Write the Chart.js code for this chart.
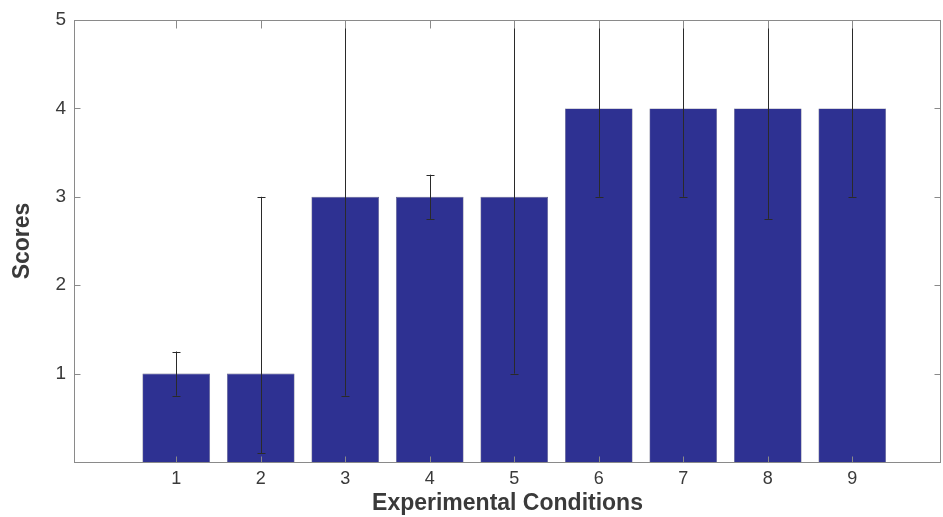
<!DOCTYPE html>
<html><head><meta charset="utf-8">
<script src="https://cdn.jsdelivr.net/npm/chart.js@4"></script>
<style>html,body{margin:0;padding:0;background:#fff}#wrap{width:943px;height:517px}</style>
</head><body><div id="wrap"><canvas id="c" width="943" height="517"></canvas></div>
<script>
const conditions = [1, 2, 3, 4, 5, 6, 7, 8, 9];
const scores = [1, 1, 3, 3, 3, 4, 4, 4, 4];
const errLow = [0.75, 0.1, 0.75, 2.75, 1, 3, 3, 2.75, 3];
const errHigh = [1.25, 3, 5, 3.25, 5, 5, 5, 5, 5];
const yTicks = [1, 2, 3, 4, 5];

const barColor = '#2E3192';
const axisColor = '#8a8a8a';
const textColor = '#3a3a3a';

const boxPlugin = {
  id: 'boxAndErrors',
  afterDatasetsDraw(chart) {
    const {ctx, chartArea: a, scales: {x, y}} = chart;
    ctx.save();
    ctx.beginPath();
    ctx.rect(a.left, a.top - 1, a.right - a.left, a.bottom - a.top + 2);
    ctx.clip();
    ctx.strokeStyle = '#2a2a2a';
    ctx.lineWidth = 1;
    conditions.forEach((c, i) => {
      const px = Math.round(x.getPixelForValue(c)) + 0.5;
      const lo = y.getPixelForValue(errLow[i]);
      const hi = y.getPixelForValue(errHigh[i]);
      ctx.beginPath();
      ctx.moveTo(px, lo); ctx.lineTo(px, hi);
      ctx.moveTo(px - 4, Math.round(lo) + 0.5); ctx.lineTo(px + 4, Math.round(lo) + 0.5);
      ctx.moveTo(px - 4, Math.round(hi) + 0.5); ctx.lineTo(px + 4, Math.round(hi) + 0.5);
      ctx.stroke();
    });
    ctx.restore();
    ctx.save();
    ctx.strokeStyle = axisColor;
    ctx.lineWidth = 1;
    const L = Math.round(a.left) + 0.5, R = Math.round(a.right) - 0.5;
    const T = Math.round(a.top) + 0.5, B = Math.round(a.bottom) + 0.5;
    ctx.strokeRect(L, T, R - L, B - T);
    ctx.beginPath();
    yTicks.forEach(v => {
      const py = Math.round(y.getPixelForValue(v)) + 0.5;
      ctx.moveTo(L, py); ctx.lineTo(L + 6, py);
      ctx.moveTo(R, py); ctx.lineTo(R - 6, py);
    });
    conditions.forEach(c => {
      const px = Math.round(x.getPixelForValue(c)) + 0.5;
      ctx.moveTo(px, B); ctx.lineTo(px, B - 6);
      ctx.moveTo(px, T); ctx.lineTo(px, T + 8);
    });
    ctx.stroke();
    ctx.restore();
  }
};

new Chart(document.getElementById('c'), {
  type: 'bar',
  data: {
    datasets: [{
      data: conditions.map((c, i) => ({x: c, y: scores[i]})),
      backgroundColor: barColor,
      borderColor: '#5a5a7a',
      borderWidth: 0.6,
      barPercentage: 0.8,
      categoryPercentage: 1.0
    }]
  },
  options: {
    responsive: false,
    animation: false,
    devicePixelRatio: 1,
    layout: {padding: {top: 20, right: 2, left: 0, bottom: 0}},
    plugins: {legend: {display: false}, tooltip: {enabled: false}},
    scales: {
      x: {
        type: 'linear',
        offset: false,
        min: -0.21,
        max: 10.05,
        afterBuildTicks: s => { s.ticks = conditions.map(v => ({value: v})); },
        afterFit: s => { s.height = 55; },
        grid: {display: false, drawTicks: false, offset: false},
        border: {display: false},
        ticks: {color: textColor, font: {family: 'Arial, "Liberation Sans", sans-serif', size: 18}, padding: 6, maxRotation: 0, autoSkip: false},
        title: {display: true, text: 'Experimental Conditions', color: textColor,
          font: {family: 'Arial, "Liberation Sans", sans-serif', size: 23, weight: 'bold'}, padding: {top: 2, bottom: 0}}
      },
      y: {
        min: 0,
        max: 5,
        afterBuildTicks: s => { s.ticks = yTicks.map(v => ({value: v})); },
        afterFit: s => { s.width = 74; },
        grid: {display: false, drawTicks: false},
        border: {display: false},
        ticks: {color: textColor, font: {family: 'Arial, "Liberation Sans", sans-serif', size: 19}, padding: 8},
        title: {display: true, text: 'Scores', color: textColor,
          font: {family: 'Arial, "Liberation Sans", sans-serif', size: 23, weight: 'bold'}, padding: {top: 9, bottom: 0}}
      }
    }
  },
  plugins: [boxPlugin]
});
</script></body></html>
